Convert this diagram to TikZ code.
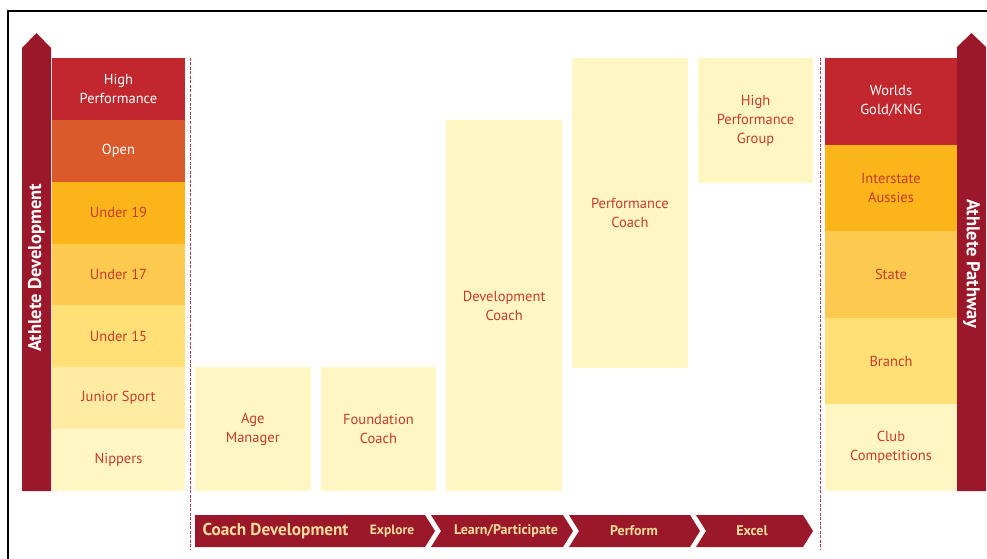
\documentclass[tikz,border=0pt]{standalone}
\usepackage{fontspec}
\setmainfont{PT Sans}
\usetikzlibrary{positioning}
\definecolor{cHigh}{RGB}{193,39,45}
\definecolor{cOpen}{RGB}{218,90,44}
\definecolor{cUnineteen}{RGB}{251,180,26}
\definecolor{cUseventeen}{RGB}{253,201,78}
\definecolor{cUfifteen}{RGB}{255,223,118}
\definecolor{cJunior}{RGB}{255,236,162}
\definecolor{cPale}{RGB}{255,246,196}
\definecolor{cDark}{RGB}{155,24,42}
\definecolor{cText}{RGB}{198,60,44}
\definecolor{cCream}{RGB}{247,220,156}
\definecolor{cSep}{RGB}{170,60,80}

\begin{document}
\begin{tikzpicture}[
  x=1pt, y=1pt,
  lvl/.style   = {rectangle, fill=#1, minimum width=133pt, minimum height=61.86pt,
                  inner sep=0pt, outer sep=0pt, align=center, text=cText,
                  font=\fontsize{14.5}{19}\selectfont},
  pth/.style   = {lvl=#1, minimum width=132pt, minimum height=86.6pt},
  cbox/.style  = {rectangle, fill=cPale, minimum width=115.5pt, inner sep=0pt,
                  outer sep=0pt, align=center, text=cText,
                  font=\fontsize{14.5}{19}\selectfont},
  upbar/.style = {fill=cDark},
  sidelbl/.style = {text=white, font=\fontsize{18.5}{20}\selectfont\bfseries},
  sep/.style   = {draw=cSep, dashed, line width=1pt, dash pattern=on 3pt off 1.5pt},
  chev/.style  = {fill=cDark},
  chevlbl/.style = {text=cCream, font=\fontsize{14}{16}\selectfont\bfseries},
]
\useasboundingbox (0,0) rectangle (987,-559);
% frame
\draw[line width=2pt] (8,-559) -- (8,-11) -- (990,-11);

% Left: athlete development
\fill[upbar] (22,-491) -- (22,-48) -- (36.5,-33) -- (51,-48) -- (51,-491) -- cycle;
\node[sidelbl, rotate=90] (adev) at (36.5,-268) {Athlete Development};
\node[lvl=cHigh, text=white, anchor=north west] (hp) at (52,-58) {High\\Performance};
\node[lvl=cOpen, text=white, below=0pt of hp]   (open) {Open};
\node[lvl=cUnineteen, below=0pt of open]        (u19)  {Under 19};
\node[lvl=cUseventeen, below=0pt of u19]        (u17)  {Under 17};
\node[lvl=cUfifteen, below=0pt of u17]          (u15)  {Under 15};
\node[lvl=cJunior, below=0pt of u15]            (jun)  {Junior Sport};
\node[lvl=cPale, below=0pt of jun]              (nip)  {Nippers};

% Separators
\draw[sep] (190,-58) -- (190,-550);
\draw[sep] (820,-58) -- (820,-550);

% Coach levels
\node[cbox, minimum height=124pt, anchor=south west] (age) at (195,-491) {Age\\Manager};
\node[cbox, minimum height=124pt, right=10.2pt of age] (found) {Foundation\\Coach};
\node[cbox, minimum height=371pt, anchor=south west, xshift=10.2pt] (devc) at (found.south east) {Development\\Coach};
\node[cbox, minimum height=310pt, anchor=north west] (perf) at (572.1,-58) {Performance\\Coach};
\node[cbox, minimum height=125pt, anchor=north west, xshift=10.2pt] (hpg) at (perf.north east) {High\\Performance\\Group};

% Coach development bar
\fill[chev] (195,-515) -- (425,-515) -- (435,-531) -- (425,-547) -- (195,-547) -- cycle;
\fill[chev] (431,-515) -- (563,-515) -- (573,-531) -- (563,-547) -- (431,-547) -- (441,-531) -- cycle;
\fill[chev] (569,-515) -- (690,-515) -- (700,-531) -- (690,-547) -- (569,-547) -- (579,-531) -- cycle;
\fill[chev] (696,-515) -- (803,-515) -- (813,-531) -- (803,-547) -- (696,-547) -- (706,-531) -- cycle;
\node[chevlbl, font=\fontsize{17.2}{19}\selectfont\bfseries, anchor=west] (cdev) at (199,-531) {Coach Development};
\node[chevlbl, font=\fontsize{13.5}{16}\selectfont\bfseries] (expl) at (392,-531) {Explore};
\node[chevlbl] (learn) at (506,-531) {Learn/Participate};
\node[chevlbl] (perform) at (634,-531) {Perform};
\node[chevlbl] (excel) at (752,-531) {Excel};

% Right: athlete pathway
\node[pth=cHigh, text=white, anchor=north west] (worlds) at (825,-58) {Worlds\\Gold/KNG};
\node[pth=cUnineteen, below=0pt of worlds] (inter) {Interstate\\Aussies};
\node[pth=cUseventeen, below=0pt of inter] (state) {State};
\node[pth=cUfifteen, below=0pt of state]   (branch) {Branch};
\node[pth=cPale, below=0pt of branch]      (club) {Club\\Competitions};
\fill[upbar] (957,-491) -- (957,-47) -- (971.5,-33) -- (986,-47) -- (986,-491) -- cycle;
\node[sidelbl, rotate=-90] (apath) at (971.5,-264) {Athlete Pathway};
\end{tikzpicture}
\end{document}
